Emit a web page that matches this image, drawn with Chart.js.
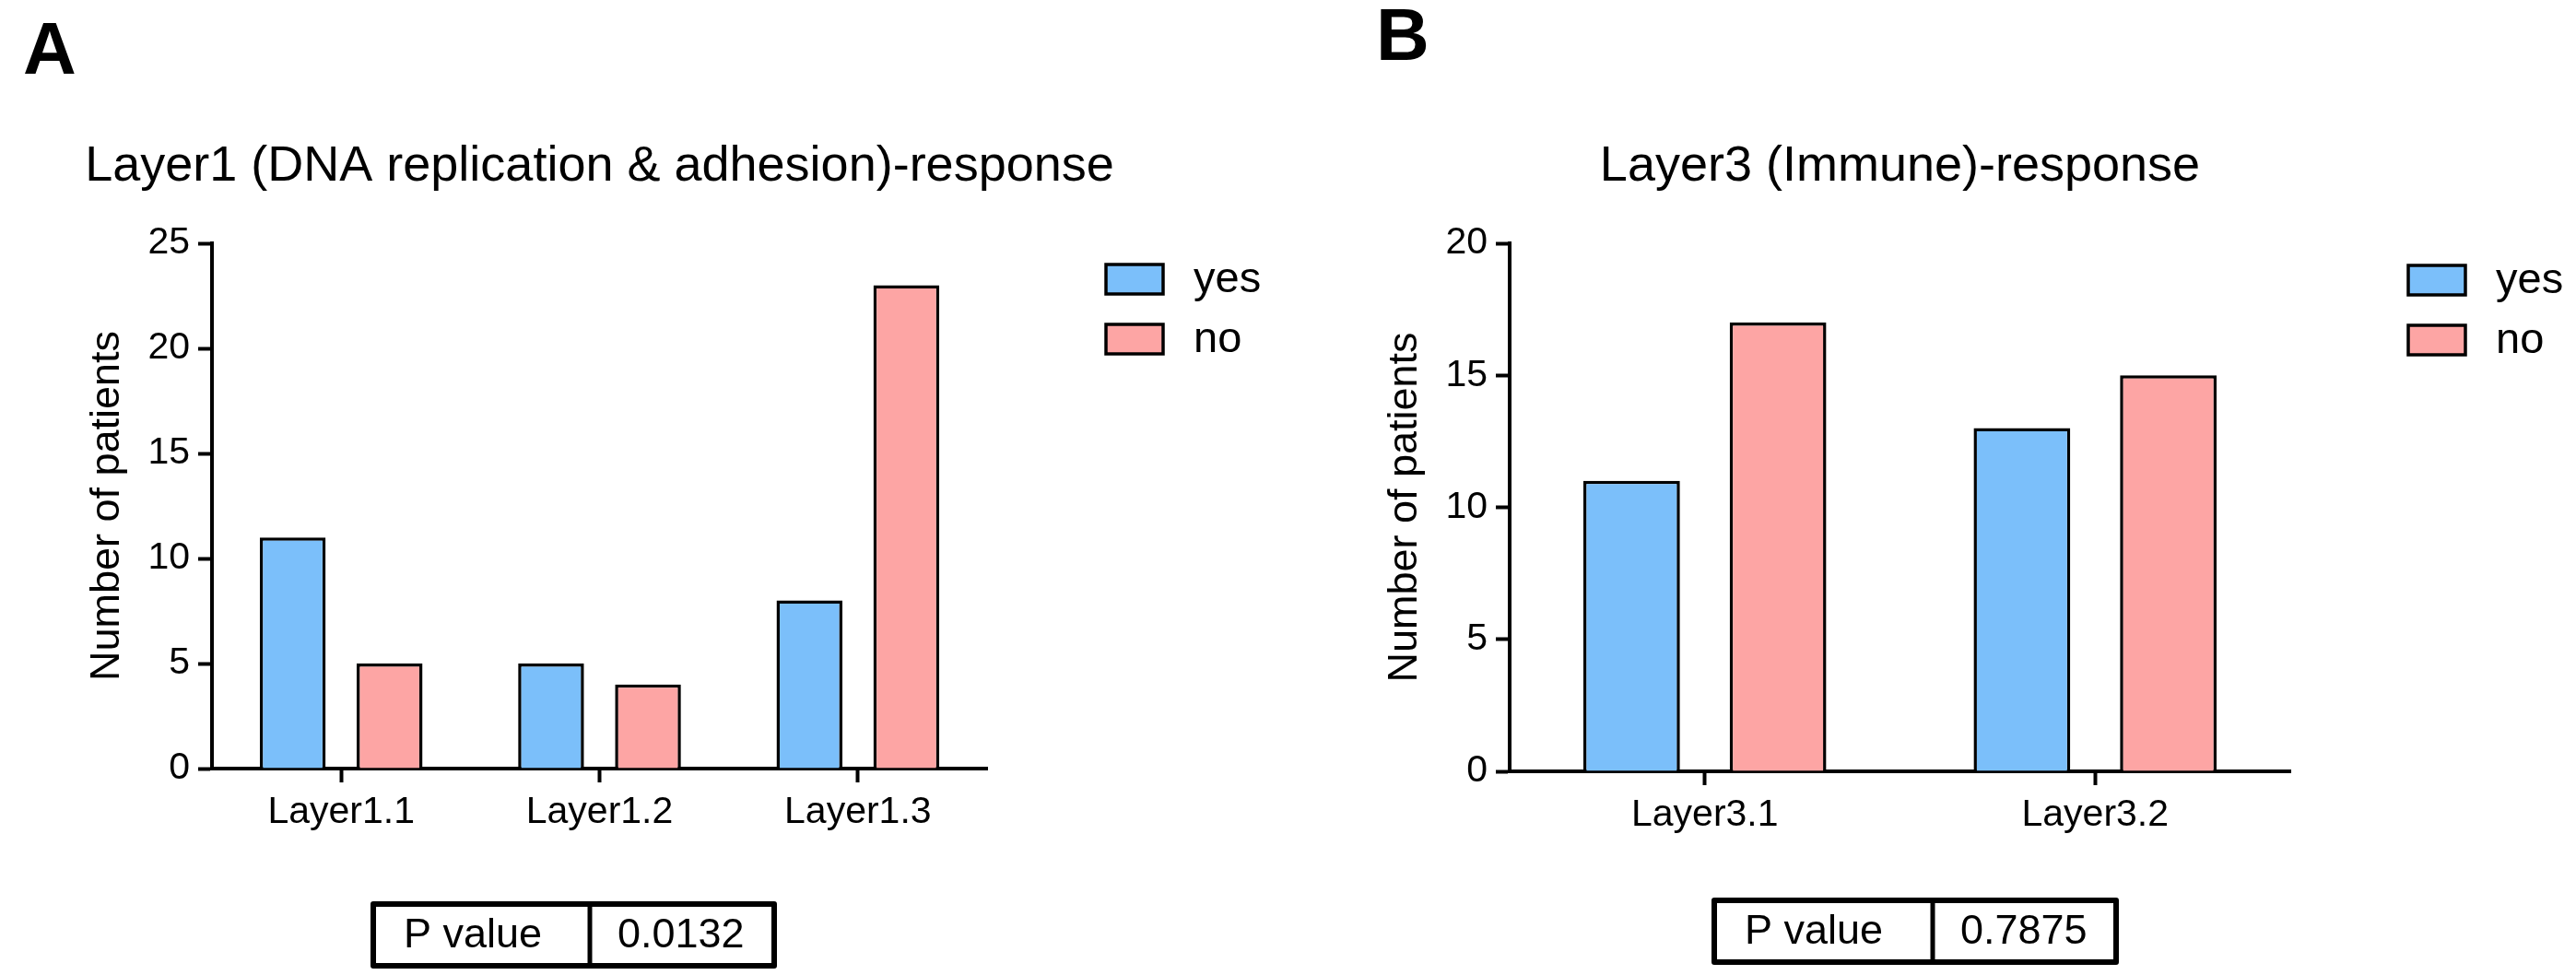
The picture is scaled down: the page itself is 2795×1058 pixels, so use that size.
<!DOCTYPE html>
<html>
<head>
<meta charset="utf-8">
<script src="https://cdn.jsdelivr.net/npm/chart.js@4.4.1/dist/chart.umd.min.js"></script>
<style>
  html, body { margin: 0; padding: 0; background: #fff; }
  .panel { position: absolute; top: 0; }
</style>
</head>
<body>
<canvas id="chartA" class="panel" width="1400" height="1058" style="left:0px"></canvas>
<canvas id="chartB" class="panel" width="1395" height="1058" style="left:1400px"></canvas>
<script>
/* data */
const seriesNames = ['yes', 'no'];
const groupsA = ['Layer1.1', 'Layer1.2', 'Layer1.3'];
const yesA = [11, 5, 8];
const noA = [5, 4, 23];
const groupsB = ['Layer3.1', 'Layer3.2'];
const yesB = [11, 13];
const noB = [17, 15];
const yTicksA = [0, 5, 10, 15, 20, 25];
const yTicksB = [0, 5, 10, 15, 20];
const pValueA = '0.0132';
const pValueB = '0.7875';

const FONT = '"Liberation Sans", Arial, Helvetica, sans-serif';
const BLUE = '#7bbffa';
const PINK = '#fda5a4';

/* panel letter, title, legend and P value table */
const panelDecor = {
  id: 'panelDecor',
  afterDraw(chart, args, o) {
    const ctx = chart.ctx;
    const area = chart.chartArea;
    ctx.save();
    ctx.fillStyle = '#000';
    ctx.textAlign = 'left';
    ctx.textBaseline = 'alphabetic';
    ctx.font = 'bold 80px ' + FONT;
    ctx.fillText(o.letter, o.letterX, o.letterY);

    ctx.font = '54px ' + FONT;
    ctx.textAlign = 'center';
    ctx.fillText(o.title, (area.left + area.right) / 2, o.titleY);

    // legend
    chart.data.datasets.forEach((ds, i) => {
      const y = o.legendY + i * 65;
      ctx.fillStyle = ds.backgroundColor;
      ctx.fillRect(o.legendX, y, 62, 32);
      ctx.lineWidth = 3.5;
      ctx.strokeStyle = '#000';
      ctx.strokeRect(o.legendX, y, 62, 32);
      ctx.fillStyle = '#000';
      ctx.font = '47px ' + FONT;
      ctx.textAlign = 'left';
      ctx.textBaseline = 'middle';
      ctx.fillText(ds.label, o.legendX + 95, y + 17);
    });

    // P value table
    const t = o.table;
    ctx.lineJoin = 'round';
    ctx.lineWidth = 6;
    ctx.strokeStyle = '#000';
    ctx.strokeRect(t.x, t.y, t.w, t.h);
    ctx.lineWidth = 5;
    ctx.beginPath();
    ctx.moveTo(t.x + t.split, t.y);
    ctx.lineTo(t.x + t.split, t.y + t.h);
    ctx.stroke();
    ctx.font = '45px ' + FONT;
    ctx.textAlign = 'left';
    ctx.textBaseline = 'middle';
    ctx.fillText('P value', t.x + 33, t.y + t.h / 2 + 1);
    ctx.fillText(t.value, t.x + t.split + 30, t.y + t.h / 2 + 1);
    ctx.restore();
  }
};

function makeChart(id, groups, yes, no, yMax, yTicks, barPct, axisW, yTitlePad, pad, decor) {
  return new Chart(document.getElementById(id), {
    type: 'bar',
    data: {
      labels: groups,
      datasets: [{
        label: seriesNames[0],
        data: yes,
        backgroundColor: BLUE,
        borderColor: '#000',
        borderWidth: 3.5
      }, {
        label: seriesNames[1],
        data: no,
        backgroundColor: PINK,
        borderColor: '#000',
        borderWidth: 3.5
      }]
    },
    options: {
      responsive: false,
      animation: false,
      devicePixelRatio: 1,
      categoryPercentage: 0.75,
      barPercentage: barPct,
      layout: { padding: pad },
      plugins: {
        legend: { display: false },
        tooltip: { enabled: false },
        panelDecor: decor
      },
      scales: {
        x: {
          offset: true,
          grid: { offset: false, drawOnChartArea: false, tickLength: 15, tickWidth: 4, tickColor: '#000' },
          border: { display: true, width: 4, color: '#000' },
          ticks: { color: '#000', font: { family: FONT, size: 41 }, padding: 8, maxRotation: 0 },
          afterFit: s => { s.height = 80; }
        },
        y: {
          min: 0,
          max: yMax,
          afterBuildTicks: s => { s.ticks = yTicks.map(v => ({ value: v })); },
          grid: { drawOnChartArea: false, tickLength: 15, tickWidth: 4, tickColor: '#000' },
          border: { display: true, width: 4, color: '#000' },
          ticks: { color: '#000', font: { family: FONT, size: 41 }, padding: 9 },
          title: {
            display: true,
            text: 'Number of patients',
            color: '#000',
            font: { family: FONT, size: 45 },
            padding: { top: yTitlePad, bottom: 0 }
          },
          afterFit: s => { s.width = axisW; }
        }
      }
    },
    plugins: [panelDecor]
  });
}

makeChart('chartA', groupsA, yesA, noA, 25, yTicksA, 0.68, 230, 90,
  { left: 0, right: 329, top: 264, bottom: 144 },
  { letter: 'A', letterX: 25, letterY: 80,
    title: 'Layer1 (DNA replication & adhesion)-response', titleY: 196,
    legendX: 1200, legendY: 287,
    table: { x: 405, y: 981, w: 435, h: 67, split: 235, value: pValueA } });

makeChart('chartB', groupsB, yesB, noB, 20, yTicksB, 0.66, 238, 98,
  { left: 0, right: 310, top: 264, bottom: 141 },
  { letter: 'B', letterX: 93, letterY: 65,
    title: 'Layer3 (Immune)-response', titleY: 196,
    legendX: 1213, legendY: 288,
    table: { x: 460, y: 977, w: 436, h: 67, split: 237, value: pValueB } });
</script>
</body>
</html>
